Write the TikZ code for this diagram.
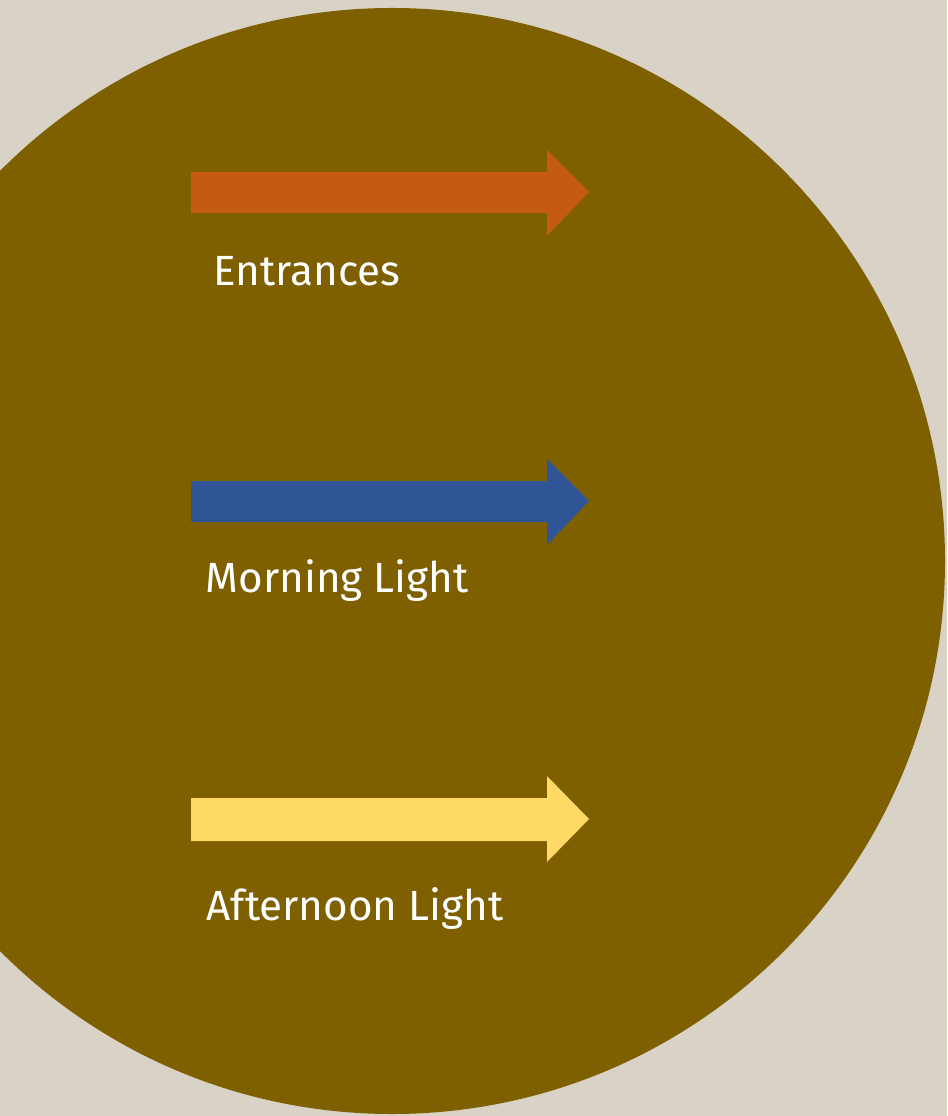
\documentclass[tikz,border=0pt]{standalone}
\usepackage{fontspec}
\setmainfont{Fira Sans}[Ligatures=NoCommon]
\usepackage{tikz}

\definecolor{bgbeige}{HTML}{D9D3C7}
\definecolor{olive}{HTML}{7F6000}
\definecolor{entrorange}{HTML}{C55A11}
\definecolor{morningblue}{HTML}{2F5597}
\definecolor{noonyellow}{HTML}{FFD966}

\begin{document}
\begin{tikzpicture}[x=0.01cm, y=-0.01cm,
    label/.style={text=white, anchor=base west, inner sep=0pt, font=\fontsize{12}{14}\selectfont}]
    \useasboundingbox (0,0) rectangle (947,1116);
    \fill[bgbeige] (0,0) rectangle (947,1116);
    \fill[olive] (392,561) circle (553);

    \filldraw[fill=entrorange, draw=none] (191,172) -- (547,172) -- (547,150) -- (589,192)
        -- (547,236) -- (547,213) -- (191,213) -- cycle;
    \filldraw[fill=morningblue, draw=none] (191,481) -- (547,481) -- (547,459) -- (589,501)
        -- (547,545) -- (547,522) -- (191,522) -- cycle;
    \filldraw[fill=noonyellow, draw=none] (191,798) -- (547,798) -- (547,776) -- (589,819)
        -- (547,862) -- (547,841) -- (191,841) -- cycle;

    \node(entrances)[label] at (213,286) {Entrances};
    \node(morning)[label] at (205,592) {Morning Light};
    \node(afternoon)[label] at (206,920) {Afternoon Light};
\end{tikzpicture}
\end{document}
